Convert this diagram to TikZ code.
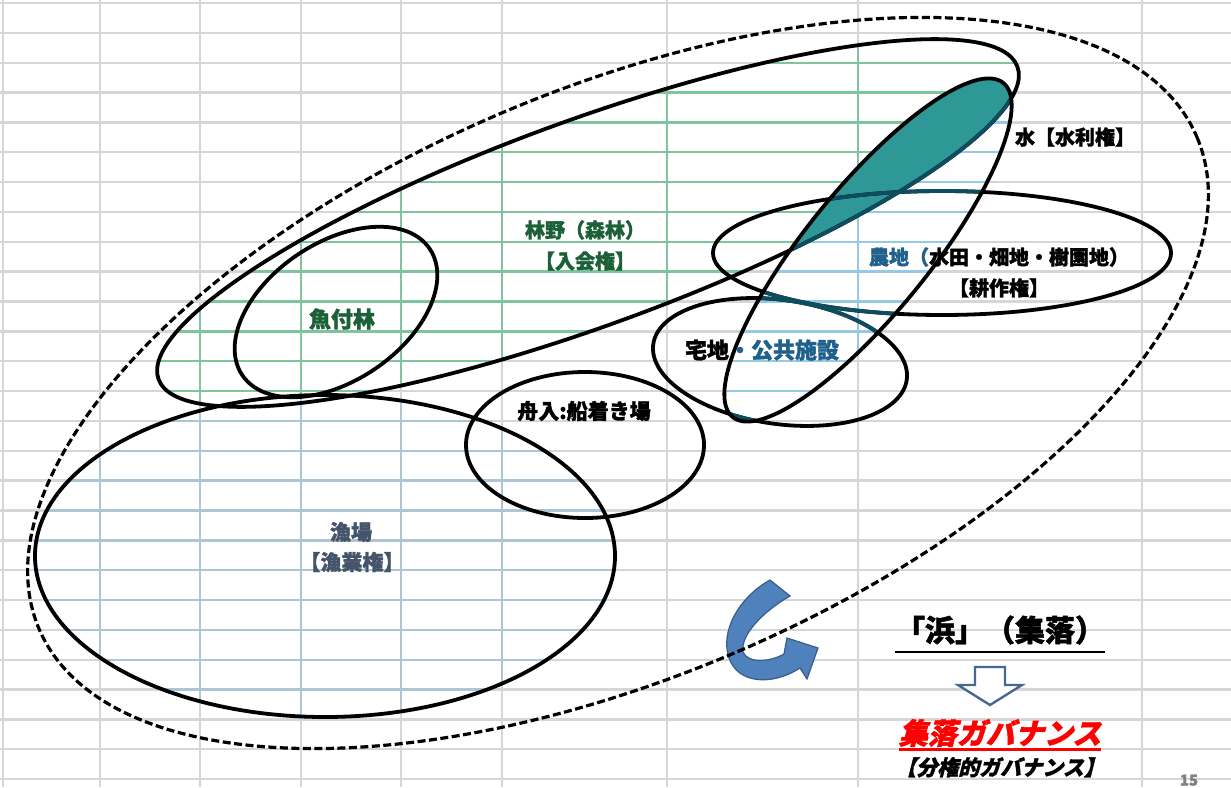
\documentclass[tikz,border=0pt]{standalone}
\usepackage{fontspec}
\newfontfamily\jpfont{Noto Sans CJK JP}[BoldFeatures={FakeBold=1.6}]
\newfontfamily\jpslant{Noto Sans CJK JP}[FakeSlant=0.25, BoldFeatures={FakeBold=1.6}]

\definecolor{cellgray}{RGB}{214,214,214}
\definecolor{woodgrid}{RGB}{128,196,158}
\definecolor{seagrid}{RGB}{172,198,212}
\definecolor{watergrid}{RGB}{150,202,226}
\definecolor{waterfill}{RGB}{46,152,150}
\definecolor{waterline}{RGB}{14,76,96}
\definecolor{woodtext}{RGB}{28,96,56}
\definecolor{seatext}{RGB}{68,84,106}
\definecolor{intext}{RGB}{31,96,140}
\definecolor{arrowblue}{RGB}{79,129,189}
\definecolor{arrowedge}{RGB}{56,93,138}
\definecolor{downedge}{RGB}{70,104,146}

\begin{document}
\begin{tikzpicture}[x=1pt,y=-1pt,
    cells/.pic={
      \foreach \gx in {3,100,200,301,401,502,667,858,1142}
        \draw (\gx,0) -- (\gx,787);
      \foreach \gy in {0,...,26}
        \draw (0,3+29.85*\gy) -- (1231,3+29.85*\gy);
    },
    ring/.style={line width=3.8pt},
    lbl/.style={inner sep=0pt, font=\jpfont\bfseries\fontsize{#1}{#1}\selectfont},
    slbl/.style={inner sep=0pt, font=\jpslant\bfseries\fontsize{#1}{#1}\selectfont}]
       \useasboundingbox (0,0) rectangle (1231,787);
       \fill[white] (0,0) rectangle (1231,787);
       \pic[color=cellgray, line width=2.4pt] {cells};

       \begin{scope}
         \clip[rotate around={20:(588,223)}] (588,223) ellipse [x radius=457, y radius=103];
         \pic[color=woodgrid, line width=2.4pt] {cells};
       \end{scope}
       \begin{scope}
         \clip (325,556) ellipse [x radius=290, y radius=161];
         \pic[color=seagrid, line width=2.4pt] {cells};
       \end{scope}
       \begin{scope}
         \clip[rotate around={51:(868,250)}] (868,250) ellipse [x radius=215, y radius=62];
         \pic[color=watergrid, line width=2.4pt] {cells};
         \clip[rotate around={20:(588,223)}] (588,223) ellipse [x radius=457, y radius=103];
         \fill[waterfill] (0,0) rectangle (1231,787);
       \end{scope}

       \filldraw[fill=arrowblue, draw=arrowedge, line width=1.2pt] (770,580) -- (790,596)
         .. controls (762,612) and (740,636) .. (743,652)
         .. controls (748,664) and (770,662) .. (784,654)
         -- (787,638) -- (818,648) -- (807,679) -- (800,668)
         .. controls (772,686) and (738,684) .. (729,658)
         .. controls (720,632) and (738,598) .. (770,580) -- cycle;

       \draw[ring, line width=3.2pt, dash pattern=on 8pt off 3.5pt, rotate around={23:(618,383)}] (618,383) ellipse [x radius=629, y radius=294];
       \draw[ring, rotate around={20:(588,223)}] (588,223) ellipse [x radius=457, y radius=103];
       \draw[ring, rotate around={34:(336,312)}] (336,312) ellipse [x radius=113, y radius=69];
       \draw[ring] (325,556) ellipse [x radius=290, y radius=161];
       \draw[ring] (585,445) ellipse [x radius=119, y radius=73];
       \draw[ring, rotate around={-8:(780,362)}] (780,362) ellipse [x radius=128, y radius=62];
       \draw[ring] (942,253) ellipse [x radius=229, y radius=62];

       \begin{scope}
         \clip[rotate around={51:(868,250)}] (868,250) ellipse [x radius=215, y radius=62];
         \draw[ring, waterline, rotate around={20:(588,223)}] (588,223) ellipse [x radius=457, y radius=103];
         \draw[ring, waterline, rotate around={-8:(780,362)}] (780,362) ellipse [x radius=128, y radius=62];
         \draw[ring, waterline] (942,253) ellipse [x radius=229, y radius=62];
       \end{scope}
       \draw[ring, rotate around={51:(868,250)}] (868,250) ellipse [x radius=215, y radius=62];

       \node[lbl=20, text=woodtext] (rinya) at (585,230) {林野（森林）};
       \node[lbl=20, text=woodtext] (iriai) at (585,261) {【入会権】};
       \node[lbl=22, text=woodtext] (uotsuki) at (342,319) {魚付林};
       \node[lbl=21, text=seatext] (gyojo) at (351,532) {漁場};
       \node[lbl=21, text=seatext] (gyogyo) at (352,562) {【漁業権】};
       \node[lbl=21] (funairi) at (584,411) {舟入:船着き場};
       \node[lbl=22] (takuchi) at (762,350) {宅地{\color{intext}・公共施設}};
       \node[lbl=20] (nochi) at (999,257) {{\color{intext}農地（}水田・畑地・樹園地）};
       \node[lbl=20] (kosaku) at (999,288) {【耕作権】};
       \node[lbl=20] (mizu) at (1075,137) {水【水利権】};

       \node[lbl=30] (hama) at (1000,630) {「浜」（集落）};
       \draw[line width=2.6pt] (hama.west |- 0,652) -- (hama.east |- 0,652);
       \draw[line width=2.4pt, downedge, fill=white] (975,667) -- (1005,667) -- (1005,685)
         -- (1022,685) -- (990,705) -- (958,685) -- (975,685) -- cycle;
       \node[slbl=29, text=red] (gov) at (1000,733) {集落ガバナンス};
       \draw[line width=3pt, red] (gov.west |- 0,749) -- (gov.east |- 0,749);
       \node[slbl=21, anchor=north] (bunken) at (1000,757) {【分権的ガバナンス】};
       \node[lbl=15, text=gray, anchor=south] (page) at (1189,786) {15};
\end{tikzpicture}
\end{document}
